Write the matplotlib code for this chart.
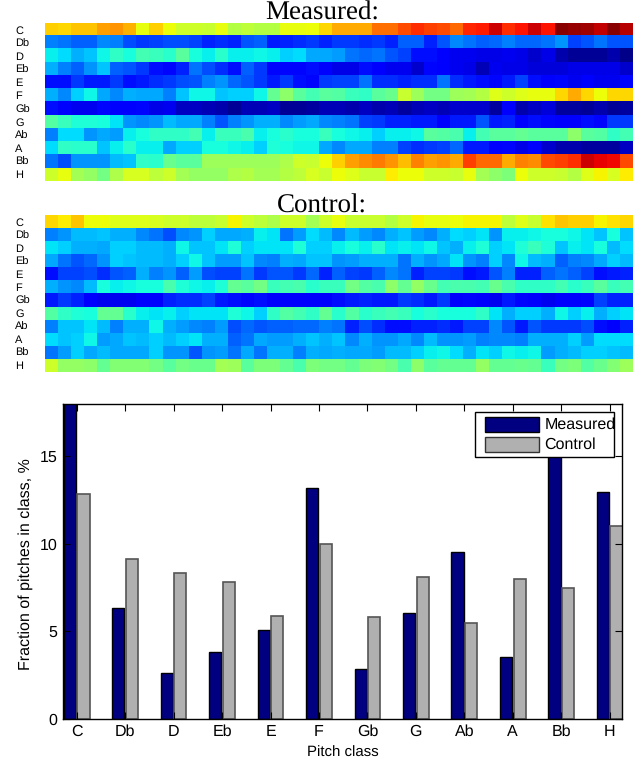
import numpy as np
import matplotlib
matplotlib.use('Agg')
import matplotlib.pyplot as plt
from matplotlib.patches import Rectangle

W, H = 638, 762

plt.rcParams['text.hinting'] = 'none'
plt.rcParams['text.hinting_factor'] = 1

pitch_classes = ['C', 'Db', 'D', 'Eb', 'E', 'F', 'Gb', 'G', 'Ab', 'A', 'Bb', 'H']

# colour values on the jet scale, one row per pitch class
measured_rows = [
    [.69,.68,.70,.70,.74,.75,.72,.63,.69,.64,.60,.60,.59,.63,.57,.58,.57,.57,.63,.63,.64] + [.68,.73,.73,.73,.79,.79,.83,.86,.84,.83,.80,.87,.88,.93,.86,.89,.93,.89,.99,.98,.97,.94,.99,.95],
    [.25,.24,.22,.22,.26,.25,.20,.18,.19,.20,.20,.19,.16,.17,.16,.21,.22,.15,.16,.17,.18] + [.16,.18,.18,.17,.18,.16,.22,.22,.16,.21,.26,.24,.22,.23,.25,.23,.23,.24,.27,.19,.21,.24,.21,.21],
    [.36,.34,.30,.32,.37,.41,.38,.43,.42,.40,.46,.38,.36,.40,.36,.36,.37,.36,.33,.34,.29] + [.29,.28,.24,.23,.24,.21,.19,.14,.14,.12,.10,.10,.09,.09,.10,.09,.07,.09,.04,.02,.02,.02,.04,.01],
    [.30,.25,.22,.27,.32,.22,.21,.18,.14,.13,.16,.24,.20,.17,.14,.22,.18,.13,.13,.13,.14] + [.12,.09,.09,.14,.11,.10,.10,.07,.13,.12,.10,.09,.05,.10,.09,.09,.08,.08,.08,.09,.09,.09,.09,.07],
    [.14,.14,.18,.15,.15,.18,.14,.15,.17,.18,.20,.21,.25,.27,.23,.21,.18,.15,.18,.14,.13] + [.18,.19,.19,.24,.17,.17,.16,.17,.17,.24,.17,.15,.14,.13,.15,.19,.14,.12,.13,.10,.11,.10,.10,.13],
    [.30,.26,.33,.37,.29,.26,.30,.29,.29,.25,.32,.37,.37,.32,.33,.33,.37,.47,.52,.46,.43] + [.46,.45,.42,.41,.46,.48,.59,.54,.49,.49,.54,.55,.57,.62,.60,.62,.63,.63,.68,.73,.68,.64,.68,.68],
    [.14,.12,.10,.10,.13,.11,.12,.13,.09,.10,.06,.06,.05,.04,.02,.05,.05,.06,.02,.02,.03] + [.05,.05,.04,.06,.04,.05,.03,.05,.06,.05,.07,.07,.07,.03,.11,.04,.06,.08,.03,.03,.02,.04,.02,.03],
    [.45,.42,.39,.39,.38,.35,.27,.26,.27,.31,.29,.29,.25,.21,.25,.27,.30,.30,.26,.28,.29] + [.26,.25,.24,.19,.18,.16,.16,.15,.15,.11,.15,.15,.21,.15,.16,.11,.14,.13,.11,.11,.14,.13,.18,.18],
    [.25,.34,.34,.27,.29,.28,.36,.38,.41,.41,.41,.43,.36,.42,.42,.44,.36,.38,.40,.38,.38] + [.42,.38,.37,.36,.33,.36,.36,.37,.46,.45,.44,.36,.43,.46,.46,.47,.46,.46,.46,.52,.46,.45,.41,.43],
    [.34,.41,.40,.40,.32,.36,.40,.36,.36,.29,.33,.33,.38,.38,.37,.36,.33,.39,.38,.37,.37] + [.29,.26,.29,.29,.25,.25,.19,.17,.18,.19,.23,.15,.15,.11,.13,.09,.11,.07,.04,.04,.03,.03,.03,.06],
    [.24,.20,.27,.27,.27,.31,.32,.41,.40,.48,.46,.46,.54,.54,.54,.54,.54,.54,.56,.60,.59] + [.64,.69,.74,.76,.78,.75,.71,.77,.74,.75,.73,.84,.80,.80,.73,.77,.76,.83,.84,.86,.93,.91,.90,.83],
    [.60,.63,.55,.53,.49,.56,.61,.61,.58,.60,.55,.53,.53,.53,.56,.57,.55,.55,.57,.58,.61] + [.59,.64,.62,.59,.59,.66,.64,.64,.60,.60,.59,.63,.55,.52,.50,.64,.60,.60,.59,.57,.62,.65,.61,.66],
]

control_rows = [
    [.68,.66,.70,.64,.64,.62,.62,.62,.61,.60,.60,.58,.58,.59,.65,.60,.58,.56,.60,.60,.55] + [.60,.63,.59,.59,.59,.57,.60,.65,.63,.63,.64,.65,.65,.65,.58,.62,.59,.67,.70,.69,.69,.65,.67,.68],
    [.25,.27,.31,.31,.32,.30,.30,.26,.24,.20,.26,.27,.33,.29,.29,.30,.36,.35,.24,.28,.34] + [.31,.26,.31,.28,.26,.30,.32,.28,.26,.30,.34,.33,.35,.27,.36,.36,.37,.38,.38,.37,.35,.32,.38,.32],
    [.35,.33,.30,.30,.29,.33,.33,.31,.31,.30,.37,.32,.32,.35,.39,.33,.35,.35,.35,.39,.33] + [.33,.36,.38,.36,.40,.35,.36,.35,.37,.32,.30,.36,.39,.33,.35,.39,.42,.39,.32,.36,.35,.38,.31,.34],
    [.29,.24,.21,.23,.27,.33,.32,.31,.31,.30,.33,.37,.32,.28,.28,.32,.26,.25,.30,.29,.32] + [.32,.27,.28,.30,.30,.30,.24,.30,.27,.29,.35,.27,.25,.33,.26,.37,.31,.30,.22,.25,.26,.29,.33,.31],
    [.14,.19,.19,.20,.17,.21,.22,.30,.25,.27,.22,.28,.20,.19,.19,.24,.18,.21,.21,.18,.23] + [.16,.22,.19,.18,.22,.26,.24,.16,.19,.19,.18,.14,.15,.21,.25,.16,.16,.22,.24,.22,.19,.14,.15,.16],
    [.30,.27,.26,.31,.38,.36,.37,.38,.38,.44,.39,.37,.36,.39,.47,.46,.49,.42,.43,.44,.40] + [.42,.42,.49,.45,.44,.52,.47,.53,.48,.43,.44,.44,.43,.48,.44,.41,.41,.41,.43,.40,.42,.46,.42,.43],
    [.15,.18,.16,.12,.10,.10,.10,.11,.11,.16,.17,.17,.19,.15,.14,.13,.14,.11,.12,.12,.11] + [.12,.14,.15,.16,.15,.15,.18,.17,.15,.18,.12,.13,.12,.10,.15,.13,.11,.10,.11,.11,.13,.19,.16,.16],
    [.45,.41,.39,.38,.47,.47,.40,.36,.35,.36,.33,.35,.35,.35,.39,.37,.33,.41,.45,.43,.41] + [.47,.40,.45,.40,.42,.43,.42,.38,.40,.38,.38,.38,.41,.35,.30,.33,.33,.30,.37,.33,.36,.30,.33,.35],
    [.25,.32,.32,.35,.31,.25,.30,.30,.37,.30,.28,.26,.25,.28,.20,.23,.21,.22,.22,.23,.23] + [.25,.24,.16,.20,.17,.14,.14,.16,.16,.17,.15,.19,.19,.26,.21,.15,.21,.18,.18,.18,.20,.14,.12,.16],
    [.34,.32,.33,.37,.28,.29,.32,.31,.33,.31,.33,.35,.30,.30,.22,.24,.29,.28,.28,.30,.32] + [.30,.32,.26,.30,.27,.27,.29,.26,.31,.27,.27,.28,.25,.26,.26,.25,.30,.30,.30,.33,.28,.34,.34,.34],
    [.24,.28,.33,.29,.31,.29,.29,.29,.33,.27,.27,.21,.27,.28,.24,.29,.24,.30,.30,.25,.30] + [.29,.30,.29,.29,.28,.31,.31,.33,.36,.37,.34,.30,.35,.33,.37,.36,.37,.28,.30,.31,.33,.33,.32,.31],
    [.60,.53,.53,.52,.47,.51,.51,.51,.49,.46,.49,.48,.48,.55,.54,.46,.50,.50,.47,.44,.50] + [.49,.49,.47,.50,.51,.49,.44,.52,.46,.47,.47,.47,.53,.47,.47,.48,.47,.42,.49,.50,.45,.48,.51,.54],
]

# percent of pitches in each class; C and Bb measured run under the axes top / legend
measured_pct = [18.6, 6.35, 2.6, 3.8, 5.1, 13.2, 2.85, 6.05, 9.55, 3.55, 15.6, 12.95]
control_pct = [12.85, 9.15, 8.35, 7.8, 5.9, 10.0, 5.8, 8.1, 5.45, 8.0, 7.5, 11.0]

MEASURED_COLOR = '#000080'
CONTROL_COLOR = '#b0b0b0'


def px_axes(fig, left, top, right, bottom):
    # axes from pixel edges, y counted from the top like in the picture
    return fig.add_axes([left / W, 1 - bottom / H, (right - left) / W, (bottom - top) / H])


def px_box(fig, left, top, right, bottom, face, edge, lw=1.0):
    fig.add_artist(Rectangle((left / W, 1 - bottom / H), (right - left) / W, (bottom - top) / H,
                             transform=fig.transFigure, facecolor=face, edgecolor=edge, lw=lw))


def heat_panel(fig, rows, title, top, bottom, baseline):
    ax = px_axes(fig, 45, top, 633, bottom)
    ax.imshow(np.array(rows), cmap='jet', vmin=0, vmax=1, aspect='auto',
              interpolation='nearest')
    ax.set_xticks([])
    ax.set_yticks(range(len(pitch_classes)))
    ax.set_yticklabels(pitch_classes, fontsize=7.8, ha='left', family='Liberation Sans')
    ax.tick_params(axis='y', length=0, pad=21.6)
    for side in ax.spines.values():
        side.set_visible(False)
    # title sits left of the panel centre in the original
    fig.text(322 / W, 1 - baseline / H, title, family='Liberation Serif', fontsize=19.3,
             ha='center', va='baseline')
    return ax


fig = plt.figure(figsize=(W / 100, H / 100), dpi=100)

heat_panel(fig, measured_rows, 'Measured:', 23, 181, 20)
heat_panel(fig, control_rows, 'Control:', 215, 372, 212.5)

ax = px_axes(fig, 63.3, 404, 622, 718.7)
x = np.arange(1, 13)
w = 0.25
ax.bar(x - 0.14, measured_pct, w, color=MEASURED_COLOR, edgecolor='black', lw=1)
ax.bar(x + 0.14, control_pct, w, color=CONTROL_COLOR, edgecolor='#555555', lw=1.2)

ax.set_xlim(0.723, 12.254)
ax.set_ylim(0, 18)
ax.set_xticks(x)
ax.set_xticklabels(pitch_classes)
ax.set_yticks([0, 5, 10, 15])
ax.tick_params(direction='in', top=True, right=True, length=5, width=0.8,
               labelsize=11.4, pad=4)
for lab in ax.get_xticklabels() + ax.get_yticklabels():
    lab.set_family('Liberation Sans')
ax.set_xlabel('Pitch class', family='Liberation Sans', fontsize=11, labelpad=5)
ax.set_ylabel('Fraction of pitches in class, %', family='Liberation Sans', fontsize=11.2,
              labelpad=5, y=0.49)
for side in ax.spines.values():
    side.set_linewidth(1.0)

# legend box drawn by hand: the label runs right up to the frame in the original
px_box(fig, 475, 411.7, 614, 457, 'white', 'black')
px_box(fig, 485, 417, 538.5, 431.7, MEASURED_COLOR, 'black')
px_box(fig, 485, 437, 538.5, 452.3, CONTROL_COLOR, '#333333')
fig.text(544.3 / W, 1 - 425 / H, 'Measured', family='Liberation Sans', fontsize=11.5, va='center')
fig.text(544.3 / W, 1 - 445 / H, 'Control', family='Liberation Sans', fontsize=11.5, va='center')

fig.savefig('out.png', dpi=100)
